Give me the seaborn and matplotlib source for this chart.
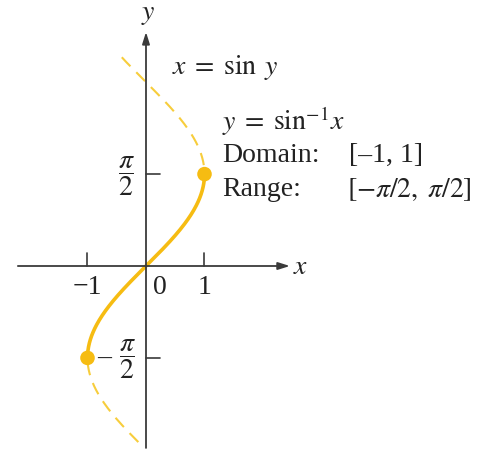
import numpy as np
import pandas as pd
import seaborn as sns
import matplotlib.pyplot as plt

# curve x = sin y, dashed over the full drawn range, solid on the principal branch
dash_y_range = [-3.01, 3.66]
solid_y_range = [-np.pi / 2, np.pi / 2]
end_points_x = [-1, 1]
end_points_y = [-np.pi / 2, np.pi / 2]
x_ticks = [-1, 1]
x_tick_labels = ['\u22121', '1']
y_ticks = [-np.pi / 2, np.pi / 2]

gold = '#F6BC12'
gold_light = '#F7CD3C'
axis_col = '#3a3a3a'

sns.set_style('white')
plt.rcParams['font.family'] = ['Liberation Serif', 'DejaVu Serif']
plt.rcParams['mathtext.fontset'] = 'stix'

yy = np.linspace(dash_y_range[0], dash_y_range[1], 300)
dash_df = pd.DataFrame({'x': np.sin(yy), 'y': yy})
ys = np.linspace(solid_y_range[0], solid_y_range[1], 200)
solid_df = pd.DataFrame({'x': np.sin(ys), 'y': ys})

fig = plt.figure(figsize=(4.96, 4.5), dpi=100)
ax = fig.add_axes([0, 0, 1, 1])
s = 58.5  # pixels per unit
ax.set_xlim(-146 / s, (496 - 146) / s)
ax.set_ylim(-(450 - 266) / s, 266 / s)
ax.set_axis_off()

# axes with arrows
ax.annotate('', xy=(2.46, 0), xytext=(-2.19, 0),
            arrowprops=dict(arrowstyle='-|>,head_length=0.7,head_width=0.22',
                            color=axis_col, lw=1.3, shrinkA=0, shrinkB=0))
ax.annotate('', xy=(0, 4.0), xytext=(0, -3.11),
            arrowprops=dict(arrowstyle='-|>,head_length=0.7,head_width=0.22',
                            color=axis_col, lw=1.3, shrinkA=0, shrinkB=0))

# ticks
for xt in x_ticks:
    ax.plot([xt, xt], [0, 0.22], color=axis_col, lw=1.2)
for yt in y_ticks:
    ax.plot([0, 0.24], [yt, yt], color=axis_col, lw=1.2)

sns.lineplot(data=dash_df, x='x', y='y', sort=False, estimator=None, ax=ax,
             color=gold_light, lw=1.5, dashes=False, linestyle=(0, (6, 4)))
sns.lineplot(data=solid_df, x='x', y='y', sort=False, estimator=None, ax=ax,
             color=gold, lw=2.6)
sns.scatterplot(x=end_points_x, y=end_points_y, ax=ax, color=gold, s=110,
                edgecolor='none', zorder=5)

fs = 20
tc = '#222222'
# axis labels
ax.text(0.03, 4.3, '$y$', fontsize=fs, color=tc, ha='center', va='center')
ax.text(2.65, -0.03, '$x$', fontsize=fs, color=tc, ha='center', va='center')

# tick labels
for xt, lab in zip(x_ticks, x_tick_labels):
    ax.text(xt, -0.37, lab, fontsize=fs, color=tc, ha='center', va='center')
ax.text(0.24, -0.37, '0', fontsize=fs, color=tc, ha='center', va='center')
ax.text(-0.33, np.pi / 2 - 0.03, r'$\dfrac{\pi}{2}$', fontsize=fs, color=tc,
        ha='center', va='center')
ax.text(-0.31, -np.pi / 2 - 0.03, r'$\dfrac{\pi}{2}$', fontsize=fs, color=tc,
        ha='center', va='center')
ax.text(-0.72, -np.pi / 2, '\u2013', fontsize=fs, color=tc, ha='center', va='center')

# annotations
ax.text(26 / s, (266 - 68) / s, r'$x\;=\;\sin\;y$', fontsize=fs, color=tc,
        ha='left', va='center')
ax.text(76 / s, (266 - 121) / s, r'$y\;=\;\sin^{-1}\!x$', fontsize=fs, color=tc,
        ha='left', va='center')
ax.text(76 / s, (266 - 155) / s, 'Domain:', fontsize=fs, color=tc,
        ha='left', va='center')
ax.text(203 / s, (266 - 155) / s, '[\u20131, 1]', fontsize=fs, color=tc,
        ha='left', va='center')
ax.text(76 / s, (266 - 190) / s, 'Range:', fontsize=fs, color=tc,
        ha='left', va='center')
ax.text(201 / s, (266 - 190) / s, r'$[-\pi/2,\;\pi/2]$', fontsize=fs, color=tc,
        ha='left', va='center')

fig.savefig('out.png', dpi=100)
